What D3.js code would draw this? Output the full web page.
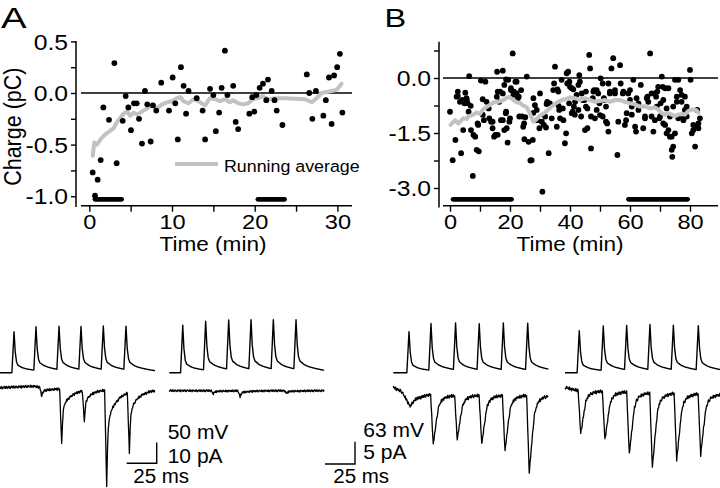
<!DOCTYPE html>
<html>
<head>
<meta charset="utf-8">
<script src="https://cdn.jsdelivr.net/npm/d3@7/dist/d3.min.js"></script>
<style>
html,body{margin:0;padding:0;background:#fff;overflow:hidden;}
svg{display:block;}
</style>
</head>
<body>
<svg id="chart" width="720" height="488"></svg>
<script>
// ================= DATA =================
// Panel A: charge per trial (time min, charge pC)
const aPoints = [
[0.41,-0.77],[1.01,-0.84],[0.69,-0.995],[1.38,-0.65],[1.7,-0.14],[2.38,-0.26],[3.03,0.29],[3.31,-0.68],
[4.04,-0.27],[4.4,-0.03],[4.72,-0.14],[5.04,-0.36],[5.4,-0.10],[5.73,-0.10],[6.01,-0.25],[6.37,-0.49],
[6.73,0.02],[7.01,-0.11],[7.42,-0.47],[7.7,-0.12],[8.1,-0.17],[8.7,0.10],[9.64,-0.17],[10.08,0.15],
[10.4,-0.10],[10.7,-0.45],[11.08,0.25],[11.4,0.07],[11.7,-0.20],[12.0,0.02],[12.99,-0.05],[13.7,-0.17],
[14.0,-0.45],[14.6,0.04],[15.0,-0.02],[15.3,-0.37],[15.7,-0.19],[16.0,0.05],[16.4,0.41],[16.7,-0.02],
[17.4,0.07],[17.7,-0.28],[18.0,-0.35],[19.35,-0.20],[19.7,-0.04],[19.95,-0.18],[20.2,-0.02],[20.6,0.05],
[21.0,0.09],[21.4,-0.07],[21.6,0.13],[22.05,0.02],[22.4,-0.07],[22.66,-0.17],[23.35,-0.31],[26.3,0.18],
[26.6,0.0],[26.97,-0.25],[27.4,0.02],[28.3,-0.22],[28.6,-0.07],[28.98,0.15],[29.3,-0.30],[29.6,0.17],
[29.97,0.25],[30.3,0.38],[30.6,-0.19]
];
const aAverage = [
[0.41,-0.61],[0.6,-0.48],[0.93,-0.50],[1.45,-0.44],[1.93,-0.40],[2.47,-0.37],[2.95,-0.34],[3.35,-0.28],
[3.75,-0.24],[4.16,-0.20],[4.56,-0.18],[4.96,-0.22],[5.37,-0.19],[5.77,-0.21],[6.37,-0.18],[6.98,-0.15],
[7.58,-0.11],[8.18,-0.15],[8.79,-0.11],[9.4,-0.09],[10.0,-0.08],[10.6,-0.05],[11.0,-0.04],[11.4,-0.08],
[12.0,-0.10],[12.6,-0.06],[13.2,-0.08],[14.0,-0.12],[14.6,-0.05],[15.2,-0.06],[15.8,-0.08],[16.4,-0.06],
[17.0,-0.09],[17.4,-0.07],[18.0,-0.10],[18.6,-0.11],[19.2,-0.10],[19.8,-0.06],[20.4,-0.05],[21.0,-0.03],
[21.6,-0.06],[22.45,-0.05],[23.65,-0.05],[24.85,-0.055],[26.1,-0.06],[26.9,-0.09],[27.5,-0.05],[28.1,0.0],
[28.7,0.01],[29.3,0.02],[29.9,0.03],[30.5,0.09]
];
const aDrugBars = [[0.4,4.2],[20.1,23.9]];
const aDrugBarLevel = -1.03;

// Panel B
const bPoints = [
[0.0,-0.92],[1.8,-1.69],[0.9,-2.24],[2.6,-0.37],[2.2,-0.51],[3.3,-0.65],[3.7,-2.05],[4.4,-1.42],[4.8,-0.69],[5.1,-0.4],
[5.5,-0.55],[5.9,-0.69],[6.4,0.05],[6.2,-0.92],[7.0,-1.42],[7.6,-2.67],[7.8,-1.55],[8.4,-1.6],[8.9,-1.96],[9.6,-2.0],
[9.2,-1.24],[10.3,-0.07],[10.9,-0.58],[11.8,-0.1],[12.2,-0.65],[12.9,-0.83],[13.1,-1.1],[13.7,-1.19],[14.2,-1.37],[15.1,-1.55],
[15.7,0.17],[15.9,-0.37],[16.4,-0.65],[17.0,-1.15],[17.6,0.2],[17.6,-0.42],[18.1,-1.42],[18.7,-0.04],[18.7,-0.92],[19.2,-1.76],
[19.8,-1.19],[20.3,-0.33],[20.9,0.67],[21.1,-0.46],[21.8,-0.1],[22.2,-0.42],[22.9,-0.51],[24.0,-1.05],[24.4,-1.33],[24.8,-1.67],
[25.6,0.04],[26.2,-1.74],[26.8,-2.25],
[2.6,-0.49],[4.1,-0.6],[5.6,-0.6],[6.9,-0.76],[9.4,-1.28],[10.9,-1.0],[11.3,-1.15],[14.2,-1.19],[14.7,-1.6],[15.6,-0.51],
[15.9,-1.55],[16.7,-0.37],[17.6,-1.15],[18.1,-0.19],[18.6,-0.96],[18.9,-1.37],[19.4,-0.05],[20.0,-1.1],[20.3,-0.28],[21.3,-0.37],
[22.2,-0.1],[22.6,-0.55],[23.1,-1.05],[23.7,-0.33],[24.7,-1.24],[25.1,-1.07],
[27.8,-0.55],[28.3,-0.74],[28.9,-0.87],[27.6,-1.69],[27.2,-2.24],[30,-0.42],[30.6,-1.19],[31.3,-1.28],[32,-1.35],[32.4,-0.65],
[32.9,-2.05],[33.3,-0.69],[33.9,-1.1],[34.4,-0.33],[35,0.31],[34.7,-0.15],[35.6,-1.33],[36.1,-0.37],[36.4,-0.87],[37.2,-0.05],
[37.6,-0.83],[37.8,-1.15],[38.3,-1.78],[38.7,-1.51],[38.9,0.13],[39.4,0.17],[39.8,-0.1],[40,-0.24],[40.6,-0.28],[40.9,-0.92],
[41.3,-0.78],[41.7,-0.65],[42.2,-0.46],[42.8,-0.19],[43.1,0.08],[43.3,-0.1],[43.9,-0.42],[44.2,-0.6],[45,-1.42],[45.3,-0.37],
[45.8,-0.83],[46.4,0.63],[46.7,0.26],[47,-1.92],[47.6,-0.55],[48,-0.33],[48.3,-1.1],[48.9,-0.87],[49.4,-0.42],[50,-1.01],
[50.2,-0.01],[50.9,-0.15],[51.3,-0.55],[52,-0.78],[52.4,-1.24],[52.8,-1.46],[53.3,-0.42],[53.8,0.26],[54.4,0.54],[55,-0.42],
[55.8,-2.1],[56.1,-1.19],[30.8,-3.1],
[27.8,-0.95],[29.1,-1.15],[29.8,-1.37],[31.7,-1.05],[32.2,-0.71],[35.8,-0.31],[36.2,-0.76],[36.7,-1.1],[39.1,-0.15],[39.7,-0.69],
[40.6,-0.96],[41.1,-0.31],[41.6,-1.0],[42.8,-0.87],[43.7,-1.05],[44.8,-0.6],[45.3,-0.78],[45.8,-1.37],[47.0,-1.05],[47.8,-0.37],
[48.9,-0.33],[49.8,-0.69],[50.9,-1.05],[51.3,-0.6],[52.0,-1.19],[52.8,-0.15],[53.3,-0.37],[55.0,-0.33],
[56.7,0.35],[56.9,-0.15],[57.6,-0.42],[58.3,-1.28],[58.7,-1.15],[59.4,-0.42],[60,-0.33],[60.6,-0.78],[61.1,-0.05],[61.7,-1.33],
[62,-1.46],[62.2,-0.55],[62.8,-0.87],[63.6,-0.19],[64.4,-1.37],[65,-1.1],[65.6,-0.55],[66.1,-0.65],[66.7,0.67],[67.2,-0.42],
[67.8,-1.46],[68.3,-1.15],[68.7,-0.51],[69.1,-0.37],[69.8,-1.1],[70.2,-0.69],[70.6,0.04],[70.9,-0.24],[71.1,-1.24],[71.7,-0.28],
[72.2,-0.83],[72.8,-1.42],[73.3,-1.6],[73.9,-1.96],[74.1,-2.15],[74.4,-1.87],[75,-1.51],[75.6,-0.65],[76.1,-0.05],[76.7,-0.33],
[77.2,-0.46],[77.8,-1.15],[78.3,-0.87],[78.9,-0.78],[80,0.22],[80.2,-0.05],[80.6,-1.51],[81.1,-1.42],[81.7,-1.87],[82,-1.33],
[82.4,-0.87],[82.8,-1.24],
[57.8,-0.37],[58.9,-0.96],[60.0,-0.6],[60.6,-1.0],[62.8,-0.69],[65.0,-1.05],[65.8,-0.51],[67.2,-1.05],[68.3,-0.42],[68.9,-0.78],
[69.4,-0.24],[70.0,-1.05],[71.1,-0.6],[71.7,-1.28],[72.2,-1.51],[72.8,-0.28],[73.3,-1.05],[73.9,-1.6],[74.4,-0.78],[75.0,-0.05],
[75.6,-0.51],[76.1,-1.1],[77.2,-0.65],[77.8,-1.05],[78.3,-0.51],[78.9,-1.05],[81.1,-1.28],[82.8,-1.37],[83.3,-1.1]
];
const bAverage = [
[0.2,-1.28],[1.7,-1.15],[2.8,-1.24],[4.4,-1.1],[5.6,-1.12],[6.1,-1.05],[7.8,-1.0],[8.9,-0.94],[10.0,-0.98],[11.1,-0.85],
[12.8,-0.76],[14.4,-0.67],[16.1,-0.65],[17.8,-0.6],[19.4,-0.52],[20.0,-0.53],[21.1,-0.6],[22.2,-0.66],[23.3,-0.68],[24.4,-0.75],
[25.6,-0.8],[26.7,-0.98],[27.8,-1.19],[28.9,-1.12],[30.0,-1.02],[31.7,-0.94],[33.3,-0.82],[35.0,-0.7],[36.7,-0.62],[38.3,-0.58],
[40.0,-0.53],[41.7,-0.55],[43.3,-0.6],[45.0,-0.55],[46.7,-0.6],[48.3,-0.65],[50.0,-0.63],[51.7,-0.6],[53.3,-0.65],[55.0,-0.6],
[56.7,-0.6],[58.3,-0.65],[60.0,-0.69],[61.7,-0.72],[63.3,-0.78],[65.0,-0.77],[66.7,-0.83],[68.3,-0.8],[69.4,-0.86],[70.6,-0.96],
[71.7,-1.0],[72.8,-0.96],[73.9,-1.0],[75.0,-1.04],[76.1,-1.0],[77.2,-0.98],[78.3,-1.0],[79.4,-0.9],[80.6,-0.86],[82.2,-0.88],[82.8,-0.95]
];
const bDrugBars = [[0.23,21.3],[58.7,80]];
const bDrugBarLevel = -3.31;

// Axis ticks / labels
const aTicksY = [0.5,0.25,0,-0.25,-0.5,-0.75,-1];
const aTickLabelsY = ["0.5","","0.0","","-0.5","","-1.0"];
const aTicksX = [0,5,10,15,20,25,30];
const aTickLabelsX = ["0","","10","","20","","30"];
const bTicksY = [0.75,0,-0.75,-1.5,-2.25,-3];
const bTickLabelsY = ["","0.0","","-1.5","","-3.0"];
const bTicksX = [0,10,20,30,40,50,60,70,80];
const bTickLabelsX = ["0","","20","","40","","60","","80"];

// Example recordings (ms, mV / pA)
const aLeftSpikeMs = [11.7,30,49.2,67.5,86.1,105];
const aLeftSpikeMv = [99,105,105,104,105,105];
const aRightSpikeMs = [11.2,30.3,49.5,68.1,86.7,105.6];
const aRightSpikeMv = [115,118,119.5,119.5,119.5,119.5];
const bLeftSpikeMs = [13.1,31.4,51.9,71.6,91.7,112];
const bLeftSpikeMv = [116,132,132,130,132,132];
const bRightSpikeMs = [11.9,31.9,51.4,70.8,90.3,111.1];
const bRightSpikeMv = [118.5,125.5,125.5,128,125.5,125.5];
const spikeShapeMs = [-1.8,0,1,2.1,3.3,6.7,10,15,21,30,45];
const spikeShapeFrac = [0,1,0.5,0.26,0.18,0.125,0.095,0.07,0.05,0.03,0];

const aLeftEpscMs = [34.8,51.4,70.3,88.9,107.8];
const aLeftEpscPa = [-4.5,-27,-15.5,-47,-29];
const aRightEpscMs = [36.7,59,97.8];
const aRightEpscPa = [-1.5,-3,-1.5];
const bLeftEpscMs = [33.3,53.3,73.7,93.1,113.3];
const bLeftEpscPa = [-11.2,-10,-11,-12.5,-17.5];
const bRightEpscMs = [13.1,33.3,53.6,72.8,93.1,113.1];
const bRightEpscPa = [-9.8,-11,-14,-16.8,-15,-13.7];
const epscShapeAMs = [-1.7,0,0.7,1.4,2.8,4.5,7,11,17,26];
const epscShapeAFrac = [0,1,0.6,0.38,0.26,0.2,0.15,0.09,0.04,0];
const epscShapeBMs = [-2.2,0,1.1,2.2,4.2,6,8.3,12,18,25];
const epscShapeBFrac = [0,1,0.8,0.6,0.27,0.15,0.08,0.04,0.015,0];
const aLeftBaseline = [[0,0.3],[28,1],[40,0],[129,-0.5]];
const aRightBaseline = [[0,0],[129,0]];
const bLeftBaseline = [[0,0],[4.2,-0.6],[7,-1],[11.1,-2.8],[13.9,-4.3],[16.7,-3.2],[19.4,-2.5],[25,-2.1],[29,-1.7],[129,-1.6]];
const bRightBaseline = [[0,0],[8,-0.6],[129,-1.4]];
const recNoise = [0.3,-0.6,0.8,-0.2,-0.9,0.5,0.1,-0.4,0.9,-0.7,0.2,0.6,-0.8,-0.1,0.7,-0.5,0.4,-0.9,0.0,0.8,
  -0.3,0.5,-0.6,0.9,-0.2,-0.7,0.3,0.6,-0.4,0.1,-0.8,0.7,-0.1,0.4,-0.5,0.8,-0.9,0.2,0.5,-0.3,
  0.6,-0.6,0.1,0.9,-0.4,-0.8,0.3,0.7,-0.2,0.0,-0.5,0.8,-0.7,0.4,0.2,-0.9,0.6,-0.1,0.5,-0.4];
const recDurationMs = [129.2,129,129.2,129.5];

// Scale bars
const scaleBarMs = 25;
const scaleBarA = {mV:50, pA:10};
const scaleBarB = {mV:63, pA:5};

// ================= DRAWING =================
const svg = d3.select("#chart");
const FONT = "Arial, 'Liberation Sans', Helvetica, sans-serif";
function styleText(sel, size){ sel.attr("font-family",FONT).attr("font-size",size).attr("fill","#000"); }

function drawFrame(o){
  const g = svg.append("g");
  const gy = g.append("g").attr("transform",`translate(${o.yAxisX},0)`)
    .call(d3.axisLeft(o.ys).tickValues(o.yTicks).tickFormat((d,i)=>o.yLabels[i]).tickSize(5).tickSizeOuter(0));
  gy.select(".domain").remove();
  gy.selectAll(".tick line").attr("stroke","#000").attr("stroke-width",1.4);
  gy.selectAll(".tick text").attr("x",null).attr("dy","0.36em").attr("text-anchor","end")
    .attr("transform","translate(-8,0) scale(1.15,1)").call(styleText,21.5);
  g.append("line").attr("x1",o.yAxisX).attr("x2",o.yAxisX).attr("y1",o.yTop).attr("y2",o.yBot)
    .attr("stroke","#000").attr("stroke-width",1.5);

  const gx = g.append("g").attr("transform",`translate(0,${o.xAxisY})`)
    .call(d3.axisBottom(o.xs).tickValues(o.xTicks).tickFormat((d,i)=>o.xLabels[i]).tickSize(6).tickSizeOuter(0));
  gx.select(".domain").remove();
  gx.selectAll(".tick line").attr("stroke","#000").attr("stroke-width",1.4);
  gx.selectAll(".tick text").attr("y",null).attr("dy",null).attr("text-anchor","middle")
    .attr("transform","translate(0,22.8) scale(1.15,1)").call(styleText,20.5);
  g.append("line").attr("x1",o.xL).attr("x2",o.xR).attr("y1",o.xAxisY).attr("y2",o.xAxisY)
    .attr("stroke","#000").attr("stroke-width",1.5);

  // zero line
  g.append("line").attr("x1",o.xL).attr("x2",o.zeroR).attr("y1",o.ys(0)).attr("y2",o.ys(0))
    .attr("stroke","#000").attr("stroke-width",1.3);

  g.append("text").text("Time (min)").attr("text-anchor","middle")
    .attr("transform",`translate(${o.titleX},251) scale(1.13,1)`).call(styleText,20);
  return g;
}

function drawBars(xs, ys, bars, level){
  svg.append("g").selectAll("rect").data(bars).join("rect")
    .attr("x",d=>xs(d[0])).attr("width",d=>xs(d[1])-xs(d[0]))
    .attr("y",ys(level)-2.4).attr("height",4.8).attr("rx",2.4).attr("fill","#000");
}

// ---------- Panel A ----------
const ax = d3.scaleLinear().domain([0,30]).range([89.3,337.4]);
const ay = d3.scaleLinear().domain([-1,0.5]).range([196.2,41.4]);
drawFrame({xs:ax, ys:ay, yAxisX:76, yTop:41, yBot:207, xAxisY:205.7, xL:81, xR:352, zeroR:352,
  yTicks:aTicksY, yLabels:aTickLabelsY, xTicks:aTicksX, xLabels:aTickLabelsX, titleX:213});
drawBars(ax, ay, aDrugBars, aDrugBarLevel);
const avgLineA = d3.line().x(d=>ax(d[0])).y(d=>ay(d[1]));
svg.append("path").attr("d",avgLineA(aAverage)).attr("fill","none").attr("stroke","#c2c2c2")
  .attr("stroke-width",4).attr("stroke-linejoin","round").attr("stroke-linecap","round");
svg.append("g").selectAll("circle").data(aPoints).join("circle")
  .attr("cx",d=>ax(d[0])).attr("cy",d=>ay(d[1])).attr("r",2.9).attr("fill","#000");
// legend
svg.append("line").attr("x1",175).attr("x2",218).attr("y1",164).attr("y2",164)
  .attr("stroke","#c2c2c2").attr("stroke-width",4);
svg.append("text").text("Running average").attr("transform","translate(224,171.5) scale(1.08,1)").call(styleText,16.5);
svg.append("text").text("Charge (pC)").attr("text-anchor","middle")
  .attr("transform","translate(21,126.7) scale(1.15,1) rotate(-90)").call(styleText,21.5);
svg.append("text").text("A").attr("transform","translate(1,27.5) scale(1.3,1)").call(styleText,29.5);

// ---------- Panel B ----------
const bx = d3.scaleLinear().domain([0,80]).range([450,690]);
const by = d3.scaleLinear().domain([-3,0]).range([188,78]);
drawFrame({xs:bx, ys:by, yAxisX:439, yTop:41.7, yBot:207.5, xAxisY:205.7, xL:443, xR:718, zeroR:718,
  yTicks:bTicksY, yLabels:bTickLabelsY, xTicks:bTicksX, xLabels:bTickLabelsX, titleX:570});
drawBars(bx, by, bDrugBars, bDrugBarLevel);
svg.append("g").selectAll("circle").data(bPoints).join("circle")
  .attr("cx",d=>bx(d[0])).attr("cy",d=>by(d[1])).attr("r",2.9).attr("fill","#000");
const avgLineB = d3.line().x(d=>bx(d[0])).y(d=>by(d[1]));
svg.append("path").attr("d",avgLineB(bAverage)).attr("fill","none").attr("stroke","#c2c2c2")
  .attr("stroke-width",4).attr("stroke-linejoin","round").attr("stroke-linecap","round");
svg.append("text").text("B").attr("transform","translate(384.5,26.7) scale(1.25,1)").call(styleText,26);

// ---------- Example recordings ----------
const spikeShape = d3.scaleLinear().domain(spikeShapeMs).range(spikeShapeFrac).clamp(true);
const epscShapeA = d3.scaleLinear().domain(epscShapeAMs).range(epscShapeAFrac).clamp(true);
const epscShapeB = d3.scaleLinear().domain(epscShapeBMs).range(epscShapeBFrac).clamp(true);

function voltagePoints(spk, amp, dur){
  const ts = new Set(d3.range(0, dur, 0.25).concat([dur]));
  spk.forEach(s => spikeShapeMs.forEach(k => { const t = +(s+k).toFixed(3); if (t>=0 && t<=dur) ts.add(t); }));
  return Array.from(ts).sort((a,b)=>a-b).map(t => [t, d3.sum(spk,(s,i)=>amp[i]*spikeShape(t-s))]);
}
function currentPoints(ev, amp, base, dur, shape, knots, nAmp, nOff){
  const baseS = d3.scaleLinear().domain(base.map(d=>d[0])).range(base.map(d=>d[1])).clamp(true);
  const ts = new Set(d3.range(0, dur, 0.5).concat([dur]));
  ev.forEach(s => knots.forEach(k => { const t = +(s+k).toFixed(3); if (t>=0 && t<=dur) ts.add(t); }));
  return Array.from(ts).sort((a,b)=>a-b).map(t => {
    const n = recNoise[(Math.round(t/0.5)+nOff) % recNoise.length];
    return [t, baseS(t) + d3.sum(ev,(s,i)=>amp[i]*shape(t-s)) + nAmp*n];
  });
}

const recLayout = [
  {x0:0,     yV:372.7, yI:388.3, mvPx:20.7/50, paPx:20.7/10, spk:aLeftSpikeMs,  spkA:aLeftSpikeMv,  ev:aLeftEpscMs,  evA:aLeftEpscPa,  base:aLeftBaseline,  shape:epscShapeA, knots:epscShapeAMs, nAmp:0.7, nOff:0},
  {x0:169.3, yV:372.7, yI:390.7, mvPx:20.7/50, paPx:20.7/10, spk:aRightSpikeMs, spkA:aRightSpikeMv, ev:aRightEpscMs, evA:aRightEpscPa, base:aRightBaseline, shape:epscShapeA, knots:epscShapeAMs, nAmp:0.55, nOff:17},
  {x0:393.3, yV:372.7, yI:387.3, mvPx:22.3/63, paPx:22.3/5,  spk:bLeftSpikeMs,  spkA:bLeftSpikeMv,  ev:bLeftEpscMs,  evA:bLeftEpscPa,  base:bLeftBaseline,  shape:epscShapeB, knots:epscShapeBMs, nAmp:0.42, nOff:31},
  {x0:565,   yV:372.7, yI:387.3, mvPx:22.3/63, paPx:22.3/5,  spk:bRightSpikeMs, spkA:bRightSpikeMv, ev:bRightEpscMs, evA:bRightEpscPa, base:bRightBaseline, shape:epscShapeB, knots:epscShapeBMs, nAmp:0.42, nOff:44}
];
const msPx = 30/scaleBarMs;
recLayout.forEach((L, idx) => {
  const dur = recDurationMs[idx];
  const xt = d3.scaleLinear().domain([0,dur]).range([L.x0, L.x0 + dur*msPx]);
  const yv = d3.scaleLinear().domain([0,100]).range([L.yV, L.yV - 100*L.mvPx]);
  const yi = d3.scaleLinear().domain([0,-10]).range([L.yI, L.yI + 10*L.paPx]);
  const vLine = d3.line().x(d=>xt(d[0])).y(d=>yv(d[1]));
  const iLine = d3.line().x(d=>xt(d[0])).y(d=>yi(d[1]));
  svg.append("path").attr("d", vLine(voltagePoints(L.spk, L.spkA, dur)))
    .attr("fill","none").attr("stroke","#000").attr("stroke-width",1.4).attr("stroke-linejoin","round");
  svg.append("path").attr("d", iLine(currentPoints(L.ev, L.evA, L.base, dur, L.shape, L.knots, L.nAmp, L.nOff)))
    .attr("fill","none").attr("stroke","#000").attr("stroke-width",1.3).attr("stroke-linejoin","round");
});

// scale bars
function scaleBar(cornerX, cornerY, mvPx, mV, pA, labelX, mvY, paY, msX){
  const sx = d3.scaleLinear().domain([0,scaleBarMs]).range([cornerX - scaleBarMs*msPx, cornerX]);
  const sy = d3.scaleLinear().domain([0,mV]).range([cornerY, cornerY - mV*mvPx]);
  const g = svg.append("g");
  g.append("path").attr("d", `M${sx(0)},${sy(0)}H${sx(scaleBarMs)}V${sy(mV)}`)
    .attr("fill","none").attr("stroke","#000").attr("stroke-width",1.4);
  g.append("text").text(`${mV} mV`).attr("x",labelX).attr("y",mvY).call(styleText,21);
  g.append("text").text(`${pA} pA`).attr("x",labelX).attr("y",paY).call(styleText,21);
  g.append("text").text(`${scaleBarMs} ms`).attr("x",msX).attr("y",483).call(styleText,20.5);
}
scaleBar(156.7, 463.3, 20.7/50, scaleBarA.mV, scaleBarA.pA, 167.7, 439.3, 462.7, 133.3);
scaleBar(355, 464, 22.3/63, scaleBarB.mV, scaleBarB.pA, 363.3, 436.7, 459.3, 333.3);
</script>
</body>
</html>
